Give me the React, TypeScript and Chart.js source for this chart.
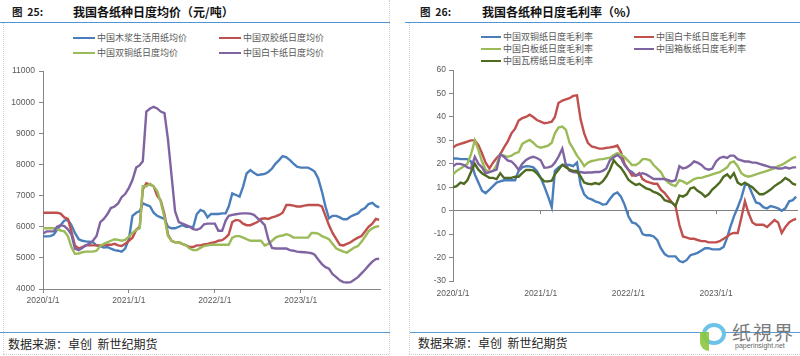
import React, { useEffect, useRef } from "react";
import { Chart, registerables } from "chart.js";

Chart.register(...registerables);

// ---------- DATA ----------
const dates = [
  "2020-01-01","2020-01-16","2020-02-01","2020-02-16","2020-03-01","2020-03-16","2020-04-01","2020-04-16","2020-05-01","2020-05-16","2020-06-01","2020-06-16",
  "2020-07-01","2020-07-16","2020-08-01","2020-08-16","2020-09-01","2020-09-16","2020-10-01","2020-10-16","2020-11-01","2020-11-16","2020-12-01","2020-12-16",
  "2021-01-01","2021-01-16","2021-02-01","2021-02-16","2021-03-01","2021-03-16","2021-04-01","2021-04-16","2021-05-01","2021-05-16","2021-06-01","2021-06-16",
  "2021-07-01","2021-07-16","2021-08-01","2021-08-16","2021-09-01","2021-09-16","2021-10-01","2021-10-16","2021-11-01","2021-11-16","2021-12-01","2021-12-16",
  "2022-01-01","2022-01-16","2022-02-01","2022-02-16","2022-03-01","2022-03-16","2022-04-01","2022-04-16","2022-05-01","2022-05-16","2022-06-01","2022-06-16",
  "2022-07-01","2022-07-16","2022-08-01","2022-08-16","2022-09-01","2022-09-16","2022-10-01","2022-10-16","2022-11-01","2022-11-16","2022-12-01","2022-12-16",
  "2023-01-01","2023-01-16","2023-02-01","2023-02-16","2023-03-01","2023-03-16","2023-04-01","2023-04-16","2023-05-01","2023-05-16","2023-06-01","2023-06-16",
  "2023-07-01","2023-07-16","2023-08-01","2023-08-16","2023-09-01","2023-09-16","2023-10-01","2023-10-16","2023-11-01","2023-11-16","2023-11-30",
];

const xTickYears = [2020, 2021, 2022, 2023];
const xTickLabels = ["2020/1/1", "2021/1/1", "2022/1/1", "2023/1/1"];

// Figure 25: prices (元/吨)
const priceNames = ["中国木浆生活用纸均价", "中国双胶纸日度均价", "中国双铜纸日度均价", "中国白卡纸日度均价"];
const priceColors = ["#4a7ebb", "#c0504d", "#9bbb59", "#8064a2"];
const pulpTissuePrice = [
  5690, 5690, 5700, 5750, 5900, 6050, 6200, 6220, 6050, 5800,
  5600, 5550, 5530, 5520, 5500, 5400, 5380, 5330, 5350, 5300,
  5250, 5230, 5200, 5300, 5600, 6350, 6450, 6500, 6750, 6700,
  6650, 6450, 6350, 6300, 6250, 6000, 5950, 5950, 6000, 6050,
  6000, 6000, 5980, 6400, 6540, 6490, 6300, 6410, 6410, 6410,
  6430, 6430, 6650, 7070, 7020, 6970, 7290, 7710, 7820, 7730,
  7660, 7680, 7700, 7760, 7870, 8030, 8140, 8270, 8230, 8140,
  8030, 7930, 7900, 7900, 7900, 7840, 7770, 7550, 7130, 6650,
  6270, 6350, 6350, 6300, 6240, 6240, 6330, 6380, 6430, 6540,
  6600, 6730, 6770, 6670, 6620,
];
const offsetPrice = [
  6450, 6450, 6450, 6450, 6450, 6420, 6300, 6250, 5850, 5400,
  5300, 5350, 5400, 5400, 5400, 5400, 5400, 5400, 5420, 5420,
  5450, 5400, 5380, 5450, 5550, 5650, 5900, 6000, 7200, 7400,
  7350, 7300, 7000, 6850, 6400, 5750, 5550, 5500, 5500, 5450,
  5400, 5350, 5350, 5400, 5400, 5430, 5450, 5480, 5500, 5550,
  5570, 5650, 5750, 6150, 6220, 6200, 6100, 6050, 6050, 6100,
  6150, 6250, 6270, 6250, 6300, 6330, 6380, 6450, 6700, 6700,
  6680, 6650, 6650, 6680, 6700, 6700, 6700, 6700, 6650, 6350,
  6050, 5800, 5600, 5420, 5400, 5450, 5500, 5580, 5650, 5700,
  5850, 6000, 6100, 6250, 6220,
];
const coatedPrice = [
  5950, 5950, 5950, 5950, 5920, 5880, 5850, 5700, 5350, 5130,
  5140, 5180, 5200, 5200, 5200, 5230, 5380, 5450, 5500, 5550,
  5600, 5580, 5550, 5580, 5680, 5800, 5900, 5950, 7300, 7300,
  7380, 7300, 7150, 6800, 6300, 5700, 5550, 5500, 5500, 5450,
  5400, 5300, 5250, 5250, 5320, 5380, 5400, 5420, 5420, 5420,
  5420, 5420, 5420, 5650, 5700, 5700, 5650, 5600, 5550, 5550,
  5550, 5550, 5400, 5450, 5550, 5650, 5700, 5720, 5760, 5720,
  5650, 5650, 5650, 5650, 5650, 5800, 5800, 5780, 5700, 5650,
  5600, 5450, 5300, 5250, 5200, 5170, 5250, 5330, 5380, 5520,
  5680, 5850, 5950, 6000, 6020,
];
const whiteCardPrice = [
  5780, 5850, 5850, 5850, 6000, 6050, 6020, 5920, 5750, 5300,
  5250, 5320, 5400, 5450, 5550, 5700, 6150, 6250, 6400, 6600,
  6650, 6750, 6950, 7050, 7250, 7500, 7900, 7980, 8100, 9700,
  9800, 9850, 9800, 9700, 9650, 8800, 7650, 6500, 6150, 6100,
  6050, 6000, 5920, 5900, 5950, 6080, 6100, 6100, 6100, 5870,
  5870, 6200, 6350, 6380, 6400, 6420, 6430, 6430, 6420, 6380,
  6280, 6180, 6050, 5600, 5320, 5300, 5300, 5300, 5300, 5250,
  5230, 5200, 5190, 5180, 5170, 5150, 5100, 4950, 4800, 4700,
  4650, 4480, 4380, 4280, 4220, 4210, 4220, 4300, 4380, 4500,
  4620, 4750, 4880, 4960, 4970,
];
const priceYMin = 4000;
const priceYMax = 11000;
const priceYStep = 1000;

// Figure 26: gross margin (%)
const marginNames = ["中国双铜纸日度毛利率", "中国白卡纸日度毛利率", "中国白板纸日度毛利率", "中国箱板纸日度毛利率", "中国瓦楞纸日度毛利率"];
const marginColors = ["#4a7ebb", "#c0504d", "#9bbb59", "#8064a2", "#4f6b22"];
const coatedMargin = [
  22.3, 22.3, 22, 22, 22, 21, 15.5, 12, 8.5, 7.5,
  9, 10.5, 12, 12.5, 13, 13, 13, 13, 17, 18.5,
  19, 18.9, 18.5, 17, 14, 10.4, 6, 1.5, 17, 18.5,
  19.5, 19.6, 19.5, 19, 20.5, 11, 7, 5.4, 4.8, 4,
  3.5, 2.6, 2.8, 5, 7, 7.8, 6, 2.6, -2.4, -5,
  -5.5, -7, -10, -10.5, -10.5, -11, -12.5, -16, -18.5, -19.5,
  -19.5, -19.5, -21.5, -22, -21, -19, -18.5, -18, -17, -16,
  -16, -16.5, -16.5, -16.5, -15.5, -11.5, -7, -2.5, 1.5, 5.5,
  11, 11, 7, 3.5, 3, 1.5, 1, 2, 1.5, 1,
  0, 1, 4, 4.5, 6,
];
const whiteCardMargin = [
  27, 28, 28.5, 29, 29.5, 30, 30, 28, 24.5, 20.5,
  18, 20.5, 22.5, 24, 27, 29.5, 33, 35, 38.5, 39.5,
  40, 41, 40, 38.7, 38, 37.3, 37.6, 38, 40, 46,
  47, 47.5, 48, 49, 49.2, 39, 33, 29, 27.4, 27,
  26.5, 26.5, 26.8, 27, 27.3, 27.8, 25, 20, 17.5, 15,
  15, 16, 13.5, 12.5, 12, 11.5, 11.5, 9, 7.5, 5.5,
  3.5, 2, -6, -11, -11.5, -12, -12, -12.5, -13, -13,
  -13.5, -13.5, -13.5, -13, -12, -11, -10, -9.5, -9.5, -3,
  4, -1, -5, -6, -6, -6, -7, -5.5, -4, -5,
  -9.5, -7, -5, -4, -3.5,
];
const whiteBoardMargin = [
  15.5, 17, 18, 19, 20, 24, 30, 26, 21, 17.5,
  16.5, 17, 19.5, 24, 23.5, 23, 23.5, 24.5, 25, 28.5,
  29.5, 30.2, 29, 27.5, 26.9, 27.3, 27.8, 29, 33, 35.5,
  35.9, 34.5, 29, 26.5, 23.5, 21.5, 19, 20.5, 21.2, 21.5,
  21.9, 22, 22.3, 22.6, 23.8, 24.6, 24, 22.8, 21.2, 19.5,
  19.5, 20.5, 22, 22, 21.5, 19.5, 18, 16.5, 13.5, 12,
  11, 10.5, 13, 12.5, 11.5, 12.5, 13.5, 14, 14, 14.5,
  15, 15.5, 16, 16.5, 17.5, 18.5, 20.5, 21, 19, 16,
  15, 14.5, 15, 15.5, 16, 16.5, 17, 17.5, 18, 19,
  19.5, 20.5, 21.5, 22.5, 23,
];
const containerboardMargin = [
  19, 20, 20, 19.5, 18.5, 18, 23, 20, 18.5, 16,
  16.5, 17, 17.5, 24, 23, 21.5, 21, 19.5, 17.4, 20,
  21.7, 22.5, 23, 22.5, 21.5, 18.3, 18.5, 19, 20.5, 23,
  26.5, 19.5, 17, 16.5, 16.3, 16.5, 16.2, 16.3, 16.3, 16.5,
  16.5, 17, 18, 21.5, 22.8, 23.8, 22.5, 19.5, 17.4, 16.5,
  15, 15.5, 16, 15.5, 14.5, 13.5, 13.5, 13.5, 13.5, 13,
  12.5, 13, 19, 18, 18.5, 19.5, 21, 20.5, 19.5, 18,
  17.5, 18, 21, 22.5, 23, 22.5, 23.5, 23.5, 22, 21.5,
  21, 21, 20.5, 20.5, 20, 19.5, 19, 18.5, 18.5, 18,
  18, 18.5, 18, 18.5, 18.5,
];
const corrugatedMargin = [
  10, 10.5, 12, 11.5, 13, 16.5, 20, 17.5, 16, 15,
  14, 14, 13.5, 16, 14, 14, 14, 14.5, 14.5, 16,
  17.4, 17.4, 17.2, 16, 14, 12.5, 12.5, 12.8, 15.5, 17.5,
  19.6, 18.5, 17.5, 17, 17, 14.6, 12, 11.5, 11.3, 11.8,
  11.3, 12.5, 14.6, 17.5, 21.5, 19.6, 18.3, 16, 13.2, 12,
  11, 11.5, 10.5, 9.5, 9, 8, 7.5, 6.5, 4.5, 4,
  3.5, 2, 6.5, 6, 7, 9.5, 10, 8.5, 7.5, 6,
  7, 9, 10.5, 12, 14.5, 15.5, 14, 16, 12, 11,
  12, 11, 10, 8.5, 7, 7, 8, 9, 10.5, 11.5,
  12.5, 14, 13, 11.5, 11,
];
const marginYMin = -30;
const marginYMax = 60;
const marginYStep = 10;

const priceSeries = [pulpTissuePrice, offsetPrice, coatedPrice, whiteCardPrice];
const marginSeries = [coatedMargin, whiteCardMargin, whiteBoardMargin, containerboardMargin, corrugatedMargin];

// ---------- HELPERS ----------
function yearFrac(s: string): number {
  const [y, m, d] = s.split("-").map(Number);
  const start = Date.UTC(y, 0, 1);
  const end = Date.UTC(y + 1, 0, 1);
  return y + (Date.UTC(y, m - 1, d) - start) / (end - start);
}
const xs = dates.map(yearFrac);
const xMin = xTickYears[0];
const xMax = xs[xs.length - 1] + 0.01;

const TICK_FONT = { family: "'Liberation Sans', Arial, sans-serif", size: 8.5 };
const TICK_COLOR = "#595959";
const AXIS_COLOR = "#868686";
const CJK = "'Noto Sans CJK SC', 'Noto Sans', sans-serif";

function tickLabel(v: number | string) {
  const i = xTickYears.indexOf(Number(v));
  return i >= 0 ? xTickLabels[i] : "";
}

function makeDatasets(series: number[][], names: string[], colors: string[]) {
  return series.map((arr, si) => ({
    label: names[si],
    data: arr.map((v, i) => ({ x: xs[i], y: v })),
    borderColor: colors[si],
    backgroundColor: colors[si],
    borderWidth: 2.4,
    pointRadius: 0,
    tension: 0,
    fill: false,
    order: series.length - si,
  }));
}

// ---------- COMPONENTS ----------
function LegendItem(props: { x: number; y: number; color: string; label: string; w: number }) {
  return (
    <div
      style={{
        position: "absolute",
        left: props.x,
        top: props.y - 7,
        height: 14,
        display: "flex",
        alignItems: "center",
        whiteSpace: "nowrap",
      }}
    >
      <span style={{ display: "inline-block", width: props.w, height: 2.5, background: props.color, marginRight: 2 }} />
      <span style={{ fontSize: 9, color: "#595959", fontFamily: CJK, lineHeight: "14px" }}>{props.label}</span>
    </div>
  );
}

export default function App() {
  const leftRef = useRef<HTMLCanvasElement>(null);
  const rightRef = useRef<HTMLCanvasElement>(null);

  useEffect(() => {
    document.body.style.margin = "0";
    const left = new Chart(leftRef.current!, {
      type: "line",
      data: { datasets: makeDatasets(priceSeries, priceNames, priceColors) as any },
      options: {
        responsive: false,
        animation: false,
        layout: { padding: { top: 9, right: 15, left: 0, bottom: 0 } },
        plugins: { legend: { display: false }, tooltip: { enabled: false } },
        scales: {
          x: {
            type: "linear",
            min: xMin,
            max: xMax,
            ticks: {
              stepSize: 1,
              includeBounds: false,
              autoSkip: false,
              maxRotation: 0,
              callback: (v: any) => tickLabel(v),
              font: TICK_FONT,
              color: TICK_COLOR,
              padding: 3,
            },
            grid: { drawOnChartArea: false, drawTicks: true, tickLength: 4, color: AXIS_COLOR },
            border: { color: AXIS_COLOR },
            afterFit: (s: any) => {
              s.height = 21;
            },
          },
          y: {
            min: priceYMin,
            max: priceYMax,
            ticks: { stepSize: priceYStep, font: TICK_FONT, color: TICK_COLOR, padding: 4, callback: (v: any) => String(v) },
            grid: { drawOnChartArea: false, drawTicks: true, tickLength: 4, color: AXIS_COLOR },
            border: { color: AXIS_COLOR },
            afterFit: (s: any) => {
              s.width = 43;
            },
          },
        },
      } as any,
    });

    const right = new Chart(rightRef.current!, {
      type: "line",
      data: { datasets: makeDatasets(marginSeries, marginNames, marginColors) as any },
      options: {
        responsive: false,
        animation: false,
        layout: { padding: { top: 8, right: 3, left: 0, bottom: 0 } },
        plugins: { legend: { display: false }, tooltip: { enabled: false } },
        scales: {
          x: {
            type: "linear",
            position: { y: 0 },
            min: xMin,
            max: xMax,
            ticks: { stepSize: 1, includeBounds: false, display: false },
            grid: { drawOnChartArea: false, drawTicks: true, tickLength: 3, color: "#7f7f7f" },
            border: { color: "#7f7f7f" },
          },
          x2: {
            type: "linear",
            position: "bottom",
            min: xMin,
            max: xMax,
            ticks: {
              stepSize: 1,
              includeBounds: false,
              autoSkip: false,
              maxRotation: 0,
              callback: (v: any) => tickLabel(v),
              font: TICK_FONT,
              color: TICK_COLOR,
              padding: 8,
            },
            grid: { display: false, drawTicks: false },
            border: { display: false },
            afterFit: (s: any) => {
              s.height = 29;
            },
          },
          y: {
            min: marginYMin,
            max: marginYMax,
            ticks: { stepSize: marginYStep, font: TICK_FONT, color: TICK_COLOR, padding: 3, callback: (v: any) => String(v) },
            grid: { drawOnChartArea: false, drawTicks: true, tickLength: 4, color: AXIS_COLOR },
            border: { color: AXIS_COLOR },
            afterFit: (s: any) => {
              s.width = 53;
            },
          },
        },
      } as any,
    });

    return () => {
      left.destroy();
      right.destroy();
    };
  }, []);

  const abs = (s: React.CSSProperties): React.CSSProperties => ({ position: "absolute", ...s });
  const titleNum: React.CSSProperties = { fontFamily: CJK, fontSize: 10.5, fontWeight: 700, color: "#1a1a1a", whiteSpace: "nowrap" };
  const titleMain: React.CSSProperties = { fontFamily: CJK, fontSize: 12, fontWeight: 700, color: "#111", whiteSpace: "nowrap" };
  const srcStyle: React.CSSProperties = { fontFamily: CJK, fontSize: 12, color: "#262626", whiteSpace: "nowrap" };
  const dotted = "1px dotted #d0d0d0";

  const leftLegendPos = [
    { x: 73, y: 38 },
    { x: 219, y: 38 },
    { x: 73, y: 53 },
    { x: 219, y: 53 },
  ];
  const rightLegendPos = [
    { x: 481, y: 37 },
    { x: 634, y: 37 },
    { x: 481, y: 49 },
    { x: 634, y: 49 },
    { x: 481, y: 61 },
  ];

  return (
    <div style={{ position: "absolute", left: 0, top: 0, width: 800, height: 356, background: "#fff", overflow: "hidden" }}>
      {/* panel frames */}
      <div style={abs({ left: 3, top: 22, width: 0, height: 332, borderLeft: dotted })} />
      <div style={abs({ left: 389, top: 0, width: 0, height: 354, borderLeft: dotted })} />
      <div style={abs({ left: 3, top: 354, width: 386, height: 0, borderTop: dotted })} />
      <div style={abs({ left: 409, top: 22, width: 0, height: 332, borderLeft: dotted })} />
      <div style={abs({ left: 409, top: 354, width: 391, height: 0, borderTop: dotted })} />

      {/* titles */}
      <div style={abs({ left: 12, top: 4, ...titleNum })}>图&nbsp;&nbsp;25:</div>
      <div style={abs({ left: 73, top: 3, ...titleMain })}>我国各纸种日度均价（元/吨）</div>
      <div style={abs({ left: 0, top: 22, width: 390, height: 1, background: "#4f94d4" })} />

      <div style={abs({ left: 420, top: 4, ...titleNum })}>图&nbsp;&nbsp;26:</div>
      <div style={abs({ left: 482, top: 3, ...titleMain })}>我国各纸种日度毛利率（%）</div>
      <div style={abs({ left: 405, top: 22, width: 395, height: 1, background: "#4f94d4" })} />

      {/* legends */}
      {priceNames.map((n, i) => (
        <LegendItem key={n} x={leftLegendPos[i].x} y={leftLegendPos[i].y} color={priceColors[i]} label={n} w={22} />
      ))}
      {marginNames.map((n, i) => (
        <LegendItem key={n} x={rightLegendPos[i].x} y={rightLegendPos[i].y} color={marginColors[i]} label={n} w={20} />
      ))}

      {/* charts */}
      <canvas ref={leftRef} width={395} height={248} style={abs({ left: 0, top: 62, display: "block" })} />
      <canvas ref={rightRef} width={400} height={248} style={abs({ left: 400, top: 62, display: "block" })} />

      {/* sources */}
      <div style={abs({ left: 0, top: 332, width: 390, height: 1, background: "#5b9bd5" })} />
      <div style={abs({ left: 410, top: 332, width: 390, height: 1, background: "#5b9bd5" })} />
      <div style={abs({ left: 8, top: 335, ...srcStyle })}>数据来源：卓创&nbsp;&nbsp;新世纪期货</div>
      <div style={abs({ left: 418, top: 334, ...srcStyle })}>数据来源：卓创&nbsp;&nbsp;新世纪期货</div>

      {/* watermark */}
      <div style={abs({ left: 702, top: 323, width: 24, height: 22, borderRadius: "50%", border: "4px solid #6cc3e8", boxSizing: "border-box", background: "#fff" })} />
      <div style={abs({ left: 700, top: 332, width: 9, height: 19, borderRadius: "0 0 0 10px", background: "#8cc63e", opacity: 0.9 })} />
      <div style={abs({ left: 732, top: 318, fontFamily: CJK, fontSize: 19, color: "#7a7a7a", letterSpacing: 2, whiteSpace: "nowrap" })}>纸視界</div>
      <div style={abs({ left: 735, top: 342, fontFamily: "'Liberation Sans', sans-serif", fontSize: 7, color: "#666", whiteSpace: "nowrap" })}>paperinsight.net</div>
    </div>
  );
}
